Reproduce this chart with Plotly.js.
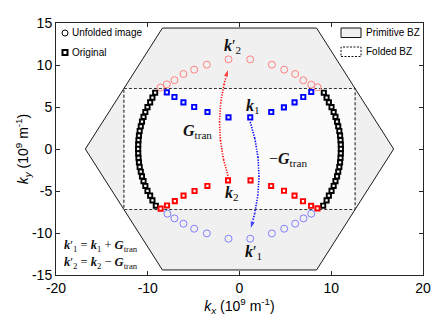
<!DOCTYPE html>
<html><head><meta charset="utf-8">
<script src="https://cdn.plot.ly/plotly-3.0.1.min.js"></script>
<style>html,body{margin:0;padding:0;background:#fff}</style>
</head><body><div id="chart" style="width:436px;height:317px"></div>
<script>
// ---- data (units: 1e9 m^-1) ----
const hexX = [-16.8, -8.4, 8.4, 16.8, 8.4, -8.4, -16.8];
const hexY = [0, 14.4, 14.4, 0, -14.4, -14.4, 0];
const foldX = [-12.6, 12.6, 12.6, -12.6, -12.6];
const foldY = [7.2, 7.2, -7.2, -7.2, 7.2];

const blackX = [-9.19,-9.49,-9.74,-10.03,-10.26,-10.46,-10.63,-10.76,-10.88,-10.96,-11.01,-11.04,-11.05,-11.04,-11.01,-10.96,-10.88,-10.76,-10.63,-10.46,-10.26,-10.03,-9.74,-9.49,-9.12,
                9.19,9.49,9.74,10.03,10.26,10.46,10.63,10.76,10.88,10.96,11.01,11.04,11.05,11.04,11.01,10.96,10.88,10.76,10.63,10.46,10.26,10.03,9.74,9.49,9.12];
const blackY = [6.70,6.12,5.55,4.98,4.40,3.83,3.26,2.70,2.14,1.59,1.05,0.52,0,-0.52,-1.05,-1.59,-2.14,-2.70,-3.26,-3.83,-4.40,-4.98,-5.55,-6.12,-6.75,
                6.70,6.12,5.55,4.98,4.40,3.83,3.26,2.70,2.14,1.59,1.05,0.52,0,-0.52,-1.05,-1.59,-2.14,-2.70,-3.26,-3.83,-4.40,-4.98,-5.55,-6.12,-6.75];

const blueSqX = [-7.92,-7.09,-6.11,-4.94,-3.49,-1.2,1.17,3.46,4.84,6.0,6.95,7.82];
const blueSqY = [6.74,6.19,5.55,5.0,4.4,3.76,3.76,4.4,4.95,5.55,6.19,6.79];

const redSqX = [-8.6,-7.9,-7.05,-6.1,-4.9,-3.5,-1.25,1.2,3.45,4.85,6.0,6.92,7.8,8.5];
const redSqY = [-7.1,-6.72,-6.2,-5.55,-5.0,-4.4,-3.74,-3.74,-4.4,-4.97,-5.55,-6.22,-6.76,-7.07];

const redCircX = [-8.6,-7.92,-7.09,-6.11,-4.94,-3.56,-1.2,1.17,3.53,4.87,6.07,6.95,7.82,8.5];
const redCircY = [7.32,7.7,8.2,8.93,9.44,10.04,10.67,10.67,10.04,9.44,8.93,8.18,7.66,7.35];

const blueCircX = [-7.85,-7.09,-6.11,-4.94,-3.56,-1.2,1.17,3.53,4.87,6.07,6.98,7.82];
const blueCircY = [-7.70,-8.26,-8.89,-9.49,-10.05,-10.68,-10.68,-10.05,-9.49,-8.89,-8.26,-7.70];

const xTicks = [-20, -10, 0, 10, 20];
const xTickText = ['-20', '-10', '0', '10', '20'];
const yTicks = [-15, -10, -5, 0, 5, 10, 15];
const yTickText = ['-15', '-10', '-5', '0', '5', '10', '15'];

// index of k2 (red square) -> k2' (red circle), k1 (blue square) -> k1' (blue circle)
const k2Idx = 6, k1Idx = 6;

// ---- helpers ----
function curve(x0, y0, x1, y1, bulge, n) {
  const cx = (x0 + x1) / 2 + bulge, cy = (y0 + y1) / 2;
  const xs = [], ys = [];
  for (let i = 0; i <= n; i++) {
    const t = i / n, u = 1 - t;
    xs.push(u*u*x0 + 2*u*t*cx + t*t*x1);
    ys.push(u*u*y0 + 2*u*t*cy + t*t*y1);
  }
  return [xs, ys];
}
const N = 40;
const sizes = Array.from({length: N + 1}, (_, i) => i === N ? 9 : 0);
const redArrow = curve(redSqX[k2Idx], redSqY[k2Idx] + 0.55, redCircX[k2Idx], redCircY[k2Idx] - 1.1, -1.9, N);
const blueArrow = curve(blueSqX[k1Idx], blueSqY[k1Idx] - 0.55, blueCircX[k1Idx], blueCircY[k1Idx] + 1.1, 1.9, N);

const sqMarker = c => ({symbol: 'square', size: 4.2, color: '#fff', line: {color: c, width: 1.9}});

const traces = [
  {x: hexX, y: hexY, mode: 'lines', fill: 'toself', fillcolor: '#f0f0f0',
   line: {color: '#1a1a1a', width: 1}, hoverinfo: 'skip', showlegend: false},
  {x: foldX, y: foldY, mode: 'lines', fill: 'toself', fillcolor: '#fbfbfb',
   line: {color: '#333', width: 1.2, dash: '3px,2px'}, hoverinfo: 'skip', showlegend: false},
  {x: blackX, y: blackY, mode: 'markers', showlegend: false, marker: sqMarker('#000')},
  {x: blueSqX, y: blueSqY, mode: 'markers', showlegend: false, marker: sqMarker('#0000ff')},
  {x: redSqX, y: redSqY, mode: 'markers', showlegend: false, marker: sqMarker('#ff0000')},
  {x: redCircX, y: redCircY, mode: 'markers', showlegend: false,
   marker: {symbol: 'circle-open', size: 7, color: '#ff8080', line: {width: 1}}},
  {x: blueCircX, y: blueCircY, mode: 'markers', showlegend: false,
   marker: {symbol: 'circle-open', size: 7, color: '#8080ff', line: {width: 1}}},
  {x: redArrow[0], y: redArrow[1], mode: 'lines+markers', showlegend: false,
   line: {color: '#ff0000', width: 1.6, dash: '1.2px,1.4px'},
   marker: {symbol: 'arrow', angleref: 'previous', size: sizes, color: '#ff0000'}},
  {x: blueArrow[0], y: blueArrow[1], mode: 'lines+markers', showlegend: false,
   line: {color: '#0000ff', width: 1.6, dash: '1.2px,1.4px'},
   marker: {symbol: 'arrow', angleref: 'previous', size: sizes, color: '#0000ff'}}
];

// pixel -> paper helpers for legend placement
const PL = 56, PW = 367, PT = 23, PH = 252;
const px = X => (X - PL) / PW;
const py = Y => (PT + PH - Y) / PH;

const sans = 'Liberation Sans, Arial, Helvetica, sans-serif';
const serif = 'Liberation Serif, DejaVu Serif, serif';
const K = '<b><i>k</i></b>';
const G = '<b><i>G</i></b><sub>tran</sub>';

const mathAnn = (x, y, text) => ({x, y, xref: 'x', yref: 'y', text, showarrow: false,
  font: {family: serif, size: 16, color: '#111'}});

const layout = {
  width: 436, height: 317,
  margin: {l: PL, r: 436 - PL - PW, t: PT, b: 317 - PT - PH},
  paper_bgcolor: '#fff', plot_bgcolor: '#fff',
  showlegend: false,
  font: {family: sans, color: '#000'},
  xaxis: {range: [-20, 20], tickvals: xTicks, ticktext: xTickText, ticks: 'inside', ticklen: 4,
    tickcolor: '#262626', showline: true, linecolor: '#262626', linewidth: 1, mirror: 'ticks',
    showgrid: false, zeroline: false, tickfont: {family: sans, size: 14},
    title: {text: '<i>k</i><sub><i>x</i></sub> (10<sup>9</sup> m<sup>-1</sup>)', font: {family: sans, size: 14}, standoff: 4}},
  yaxis: {range: [-15, 15], tickvals: yTicks, ticktext: yTickText, ticks: 'inside', ticklen: 4,
    tickcolor: '#262626', showline: true, linecolor: '#262626', linewidth: 1, mirror: 'ticks',
    showgrid: false, zeroline: false, tickfont: {family: sans, size: 14},
    title: {text: '<i>k</i><sub><i>y</i></sub> (10<sup>9</sup> m<sup>-1</sup>)', font: {family: sans, size: 14}, standoff: 0}},
  shapes: [
    {type: 'circle', xref: 'paper', yref: 'paper', xsizemode: 'pixel', ysizemode: 'pixel',
     xanchor: px(65), yanchor: py(33), x0: -3, x1: 3, y0: -3, y1: 3, line: {color: '#000', width: 1}, fillcolor: '#fff'},
    {type: 'rect', xref: 'paper', yref: 'paper', xsizemode: 'pixel', ysizemode: 'pixel',
     xanchor: px(65), yanchor: py(52.5), x0: -2.5, x1: 2.5, y0: -2.5, y1: 2.5, line: {color: '#000', width: 2}, fillcolor: '#fff'},
    {type: 'rect', xref: 'paper', yref: 'paper', x0: px(341), x1: px(361), y0: py(37.5), y1: py(28),
     line: {color: '#111', width: 1}, fillcolor: '#f0f0f0'},
    {type: 'rect', xref: 'paper', yref: 'paper', x0: px(341), x1: px(361), y0: py(56.5), y1: py(47),
     line: {color: '#111', width: 1, dash: '2px,1.5px'}, fillcolor: '#fff'}
  ],
  annotations: [
    {xref: 'paper', yref: 'paper', x: px(70), y: py(33), xanchor: 'left', yanchor: 'middle', showarrow: false,
     text: 'Unfolded image', font: {family: sans, size: 10}},
    {xref: 'paper', yref: 'paper', x: px(70), y: py(52.5), xanchor: 'left', yanchor: 'middle', showarrow: false,
     text: 'Original', font: {family: sans, size: 10}},
    {xref: 'paper', yref: 'paper', x: px(364), y: py(32.7), xanchor: 'left', yanchor: 'middle', showarrow: false,
     text: 'Primitive BZ', font: {family: sans, size: 10}},
    {xref: 'paper', yref: 'paper', x: px(364), y: py(51.7), xanchor: 'left', yanchor: 'middle', showarrow: false,
     text: 'Folded BZ', font: {family: sans, size: 10}},
    mathAnn(-0.8, 12.2, K + '′<sub>2</sub>'),
    mathAnn(1.5, 5.1, K + '<sub>1</sub>'),
    mathAnn(-4.6, 2.1, G),
    mathAnn(5.3, -1.2, '−' + G),
    mathAnn(-0.8, -5.25, K + '<sub>2</sub>'),
    mathAnn(1.5, -12.3, K + '′<sub>1</sub>'),
    {xref: 'x', yref: 'y', x: -19.3, y: -11.5, xanchor: 'left', yanchor: 'middle', showarrow: false,
     text: K + '′<sub>1</sub> = ' + K + '<sub>1</sub> + ' + G, font: {family: serif, size: 12.5, color: '#111'}},
    {xref: 'x', yref: 'y', x: -19.3, y: -13.55, xanchor: 'left', yanchor: 'middle', showarrow: false,
     text: K + '′<sub>2</sub> = ' + K + '<sub>2</sub> − ' + G, font: {family: serif, size: 12.5, color: '#111'}}
  ]
};

Plotly.newPlot('chart', traces, layout, {staticPlot: true, displayModeBar: false});
</script></body></html>
